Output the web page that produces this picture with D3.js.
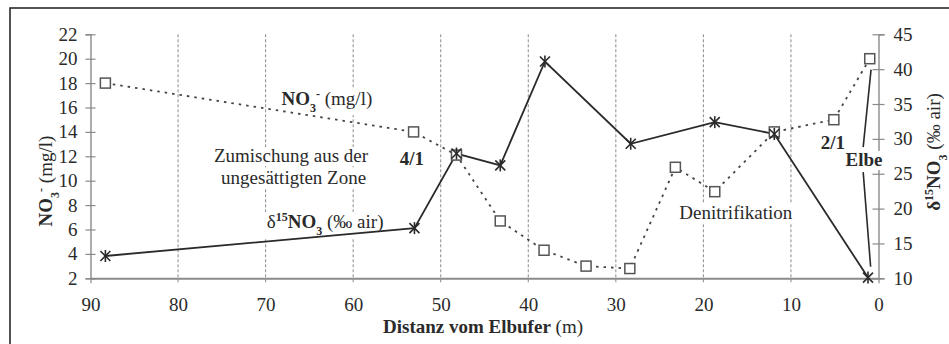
<!DOCTYPE html>
<html>
<head>
<meta charset="utf-8">
<script src="https://cdn.jsdelivr.net/npm/d3@7"></script>
<style>
  body { margin: 0; background: #fff; }
</style>
</head>
<body>
<div id="chart"></div>
<script>
// distance from the Elbe bank (m)
const no3Dist = [88.3, 53.1, 48.2, 43.2, 38.2, 33.4, 28.4, 23.2, 18.7, 11.9, 5.1, 1.0];
const no3Values = [18, 14, 12.1, 6.7, 4.3, 3.0, 2.8, 11.1, 9.1, 14, 15, 20];

const d15Dist = [88.3, 53.0, 48.2, 43.2, 38.1, 28.3, 18.7, 11.9, 1.2];
const d15Values = [13.2, 17.2, 27.9, 26.2, 41.1, 29.3, 32.4, 30.7, 10.1];

const xTicks = [90, 80, 70, 60, 50, 40, 30, 20, 10, 0];
const leftTicks = [2, 4, 6, 8, 10, 12, 14, 16, 18, 20, 22];
const rightTicks = [10, 15, 20, 25, 30, 35, 40, 45];

const width = 949;
const height = 344;
const fontSize = 19;
const smallSize = 12;
const serif = '"Liberation Serif", "Times New Roman", serif';

const svg = d3.select('#chart').append('svg')
  .attr('width', width)
  .attr('height', height);

const x = d3.scaleLinear([90, 0], [90.5, 878.5]);
const yL = d3.scaleLinear([2, 22], [278.3, 34.3]);
const yR = d3.scaleLinear([10, 45], [278.3, 34.3]);

const gray = '#8a8a8a';
const ink = '#2a2a2a';

// outer frame
svg.append('rect')
  .attr('x', 10).attr('y', 8)
  .attr('width', width + 10).attr('height', height + 10)
  .attr('fill', 'none')
  .attr('stroke', ink)
  .attr('stroke-width', 1.6);

// vertical grid
svg.append('g')
  .selectAll('line')
  .data(xTicks.filter((d) => d !== 90 && d !== 0))
  .join('line')
  .attr('x1', (d) => x(d)).attr('x2', (d) => x(d))
  .attr('y1', yL(22)).attr('y2', yL(2) + 5)
  .attr('stroke', gray)
  .attr('stroke-width', 1)
  .attr('stroke-dasharray', '3,2');

function styleAxis(g) {
  g.select('.domain').attr('stroke', gray).attr('stroke-width', 1.4);
  g.selectAll('.tick line').attr('stroke', gray).attr('stroke-width', 1.2);
  g.selectAll('text')
    .style('font-family', serif)
    .style('font-size', `${fontSize}px`)
    .attr('fill', ink);
}

// x axis
const xAxis = svg.append('g')
  .attr('transform', `translate(0,${yL(2)})`)
  .call(d3.axisBottom(x).tickValues(xTicks).tickSize(5).tickPadding(14).tickSizeOuter(0))
  .call(styleAxis);
xAxis.select('.domain').attr('stroke-width', 2);
xAxis.selectAll('.tick line').attr('opacity', (d) => (d === 90 || d === 0 ? 1 : 0));

// left axis
svg.append('g')
  .attr('transform', `translate(${x(90)},0)`)
  .call(d3.axisLeft(yL).tickValues(leftTicks).tickSizeOuter(0).tickSize(5).tickPadding(8))
  .call(styleAxis)
  .selectAll('.tick line').attr('x1', 5).attr('x2', -5);

// right axis
svg.append('g')
  .attr('transform', `translate(${x(0)},0)`)
  .call(d3.axisRight(yR).tickValues(rightTicks).tickSizeOuter(0).tickSize(6).tickPadding(9))
  .call(styleAxis)
  .selectAll('.tick line').attr('x1', -6).attr('x2', 6);

// in-plot labels (white box hides the grid behind them)
const bgLayer = svg.append('g');
const seriesLayer = svg.append('g');
const textLayer = svg.append('g');

function richText(t, parts) {
  t.style('font-family', serif).style('font-size', `${fontSize}px`).attr('fill', ink);
  parts.forEach((p) => {
    const s = t.append('tspan').text(p.t);
    if (p.b) s.attr('font-weight', 'bold');
    if (p.sub) s.attr('baseline-shift', 'sub').style('font-size', `${smallSize}px`);
    if (p.sup) s.attr('baseline-shift', 'super').style('font-size', `${smallSize}px`);
  });
}

function label(xv, yv, parts, bg) {
  const t = textLayer.append('text')
    .attr('x', x(xv)).attr('y', yL(yv))
    .attr('text-anchor', 'middle');
  richText(t, parts);
  if (bg) {
    const bb = t.node().getBBox();
    bgLayer.append('rect')
      .attr('x', bb.x - 2).attr('y', bb.y + 2)
      .attr('width', bb.width + 4).attr('height', bb.height - 2)
      .attr('fill', '#fff');
  }
  return t;
}

label(63.0, 16.2, [{ t: 'NO', b: true }, { t: '3', b: true, sub: true }, { t: '-', b: true, sup: true }, { t: ' (mg/l)' }], true);
label(67.1, 11.53, [{ t: 'Zumischung aus der' }], true);
label(66.8, 9.73, [{ t: 'ungesättigten Zone' }], true);
label(53.3, 11.29, [{ t: '4/1', b: true }], false);
label(63.2, 6.12, [{ t: 'δ' }, { t: '15', b: true, sup: true }, { t: 'NO', b: true }, { t: '3', b: true, sub: true }, { t: ' (‰ air)' }], true);
label(16.3, 6.86, [{ t: 'Denitrifikation' }], true);
label(5.2, 12.6, [{ t: '2/1', b: true }], false);
label(1.65, 11.2, [{ t: 'Elbe', b: true }], true);

// Elbe leader lines
const leader = [[[0.85, 19.1], [1.75, 12.75]], [[1.75, 10.7], [0.9, 2.95]]];
seriesLayer.selectAll('.leader')
  .data(leader)
  .join('path')
  .attr('class', 'leader')
  .attr('d', d3.line().x((d) => x(d[0])).y((d) => yL(d[1])))
  .attr('fill', 'none')
  .attr('stroke', ink)
  .attr('stroke-width', 1.6);

// NO3 series, dotted with open squares
const no3 = no3Dist.map((d, i) => [d, no3Values[i]]);
seriesLayer.append('path')
  .datum(no3)
  .attr('d', d3.line().x((d) => x(d[0])).y((d) => yL(d[1])))
  .attr('fill', 'none')
  .attr('stroke', '#444')
  .attr('stroke-width', 1.8)
  .attr('stroke-dasharray', '2.5,5');

// d15N series, solid with asterisks
const d15 = d15Dist.map((d, i) => [d, d15Values[i]]);
seriesLayer.append('path')
  .datum(d15)
  .attr('d', d3.line().x((d) => x(d[0])).y((d) => yR(d[1])))
  .attr('fill', 'none')
  .attr('stroke', ink)
  .attr('stroke-width', 1.8);

seriesLayer.selectAll('.sq')
  .data(no3)
  .join('rect')
  .attr('class', 'sq')
  .attr('x', (d) => x(d[0]) - 5).attr('y', (d) => yL(d[1]) - 5)
  .attr('width', 10).attr('height', 10)
  .attr('fill', '#fff')
  .attr('stroke', '#555')
  .attr('stroke-width', 1.5);

const star = seriesLayer.selectAll('.star')
  .data(d15)
  .join('g')
  .attr('class', 'star')
  .attr('transform', (d) => `translate(${x(d[0])},${yR(d[1])})`)
  .attr('stroke', ink)
  .attr('stroke-width', 1.6);
star.append('line').attr('x1', -5).attr('y1', -5).attr('x2', 5).attr('y2', 5);
star.append('line').attr('x1', -5).attr('y1', 5).attr('x2', 5).attr('y2', -5);
star.append('line').attr('x1', 0).attr('y1', -6).attr('x2', 0).attr('y2', 6);

// axis titles
svg.append('text')
  .attr('text-anchor', 'middle')
  .attr('x', 483)
  .attr('y', 333)
  .call((t) => richText(t, [{ t: 'Distanz vom Elbufer', b: true }, { t: ' (m)' }]));

svg.append('text')
  .attr('text-anchor', 'middle')
  .attr('transform', 'translate(52,181) rotate(-90)')
  .call((t) => richText(t, [{ t: 'NO', b: true }, { t: '3', b: true, sub: true }, { t: '-', b: true, sup: true }, { t: ' (mg/l)' }]));

svg.append('text')
  .attr('text-anchor', 'middle')
  .attr('transform', 'translate(940,152) rotate(-90)')
  .call((t) => richText(t, [{ t: 'δ', b: true }, { t: '15', b: true, sup: true }, { t: 'NO', b: true }, { t: '3', b: true, sub: true }, { t: ' (‰ air)' }]));
</script>
</body>
</html>
